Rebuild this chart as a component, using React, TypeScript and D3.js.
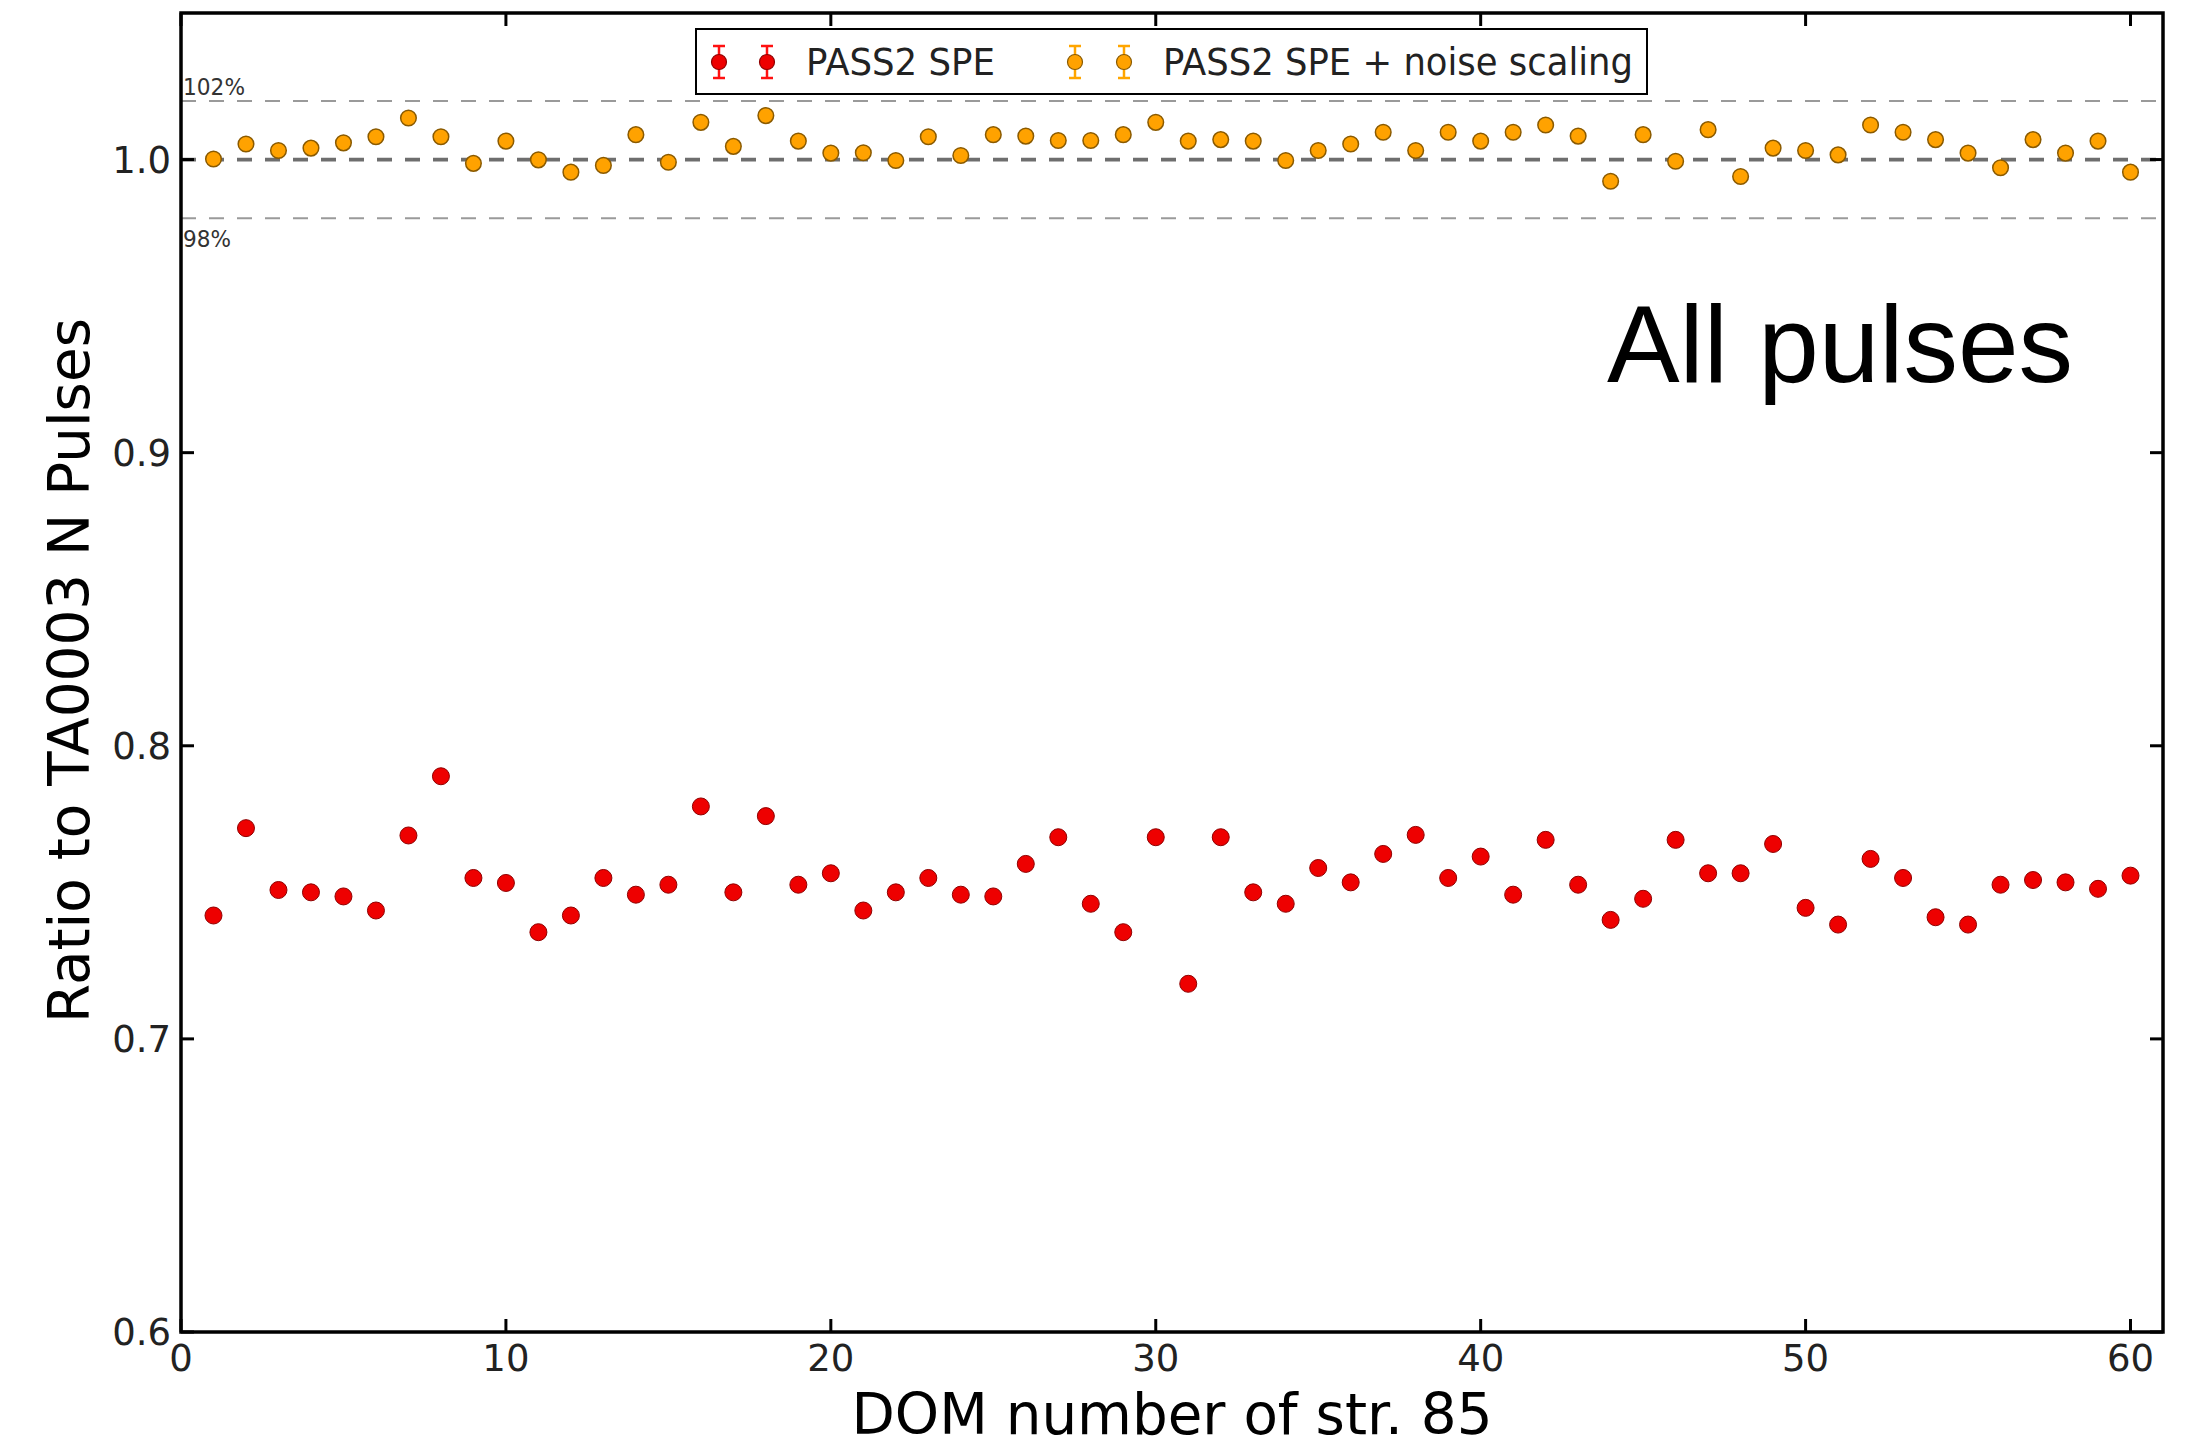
import React from "react";
import * as d3 from "d3";

const domNumbers = [
  1, 2, 3, 4, 5, 6, 7, 8, 9, 10, 11, 12, 13, 14, 15, 16, 17, 18, 19, 20,
  21, 22, 23, 24, 25, 26, 27, 28, 29, 30, 31, 32, 33, 34, 35, 36, 37, 38, 39, 40,
  41, 42, 43, 44, 45, 46, 47, 48, 49, 50, 51, 52, 53, 54, 55, 56, 57, 58, 59, 60,
];

const pass2Spe = [
  0.7421, 0.7719, 0.7508, 0.75, 0.7486, 0.7438, 0.7694, 0.7896, 0.7549, 0.7532,
  0.7364, 0.7421, 0.7549, 0.7492, 0.7526, 0.7793, 0.75, 0.776, 0.7526, 0.7565,
  0.7438, 0.75, 0.7549, 0.7492, 0.7486, 0.7597, 0.7688, 0.7461, 0.7364, 0.7688,
  0.7188, 0.7688, 0.75, 0.7461, 0.7583, 0.7534, 0.7631, 0.7696, 0.7549, 0.7622,
  0.7492, 0.7679, 0.7526, 0.7406, 0.7478, 0.7679, 0.7565, 0.7565, 0.7665, 0.7447,
  0.739, 0.7614, 0.7549, 0.7415, 0.739, 0.7526, 0.7542, 0.7534, 0.7512, 0.7557,
];

const pass2SpeNoise = [
  1.0002, 1.0053, 1.0031, 1.0039, 1.0057, 1.0078, 1.0142, 1.0078, 0.9987, 1.0063,
  0.9999, 0.9957, 0.998, 1.0085, 0.9991, 1.0127, 1.0045, 1.015, 1.0063, 1.0022,
  1.0023, 0.9997, 1.0078, 1.0014, 1.0085, 1.008, 1.0065, 1.0065, 1.0085, 1.0127,
  1.0063, 1.0068, 1.0063, 0.9997, 1.0031, 1.0053, 1.0093, 1.0031, 1.0093, 1.0063,
  1.0093, 1.0118, 1.008, 0.9926, 1.0085, 0.9994, 1.0102, 0.9942, 1.0039, 1.0031,
  1.0016, 1.0118, 1.0093, 1.0068, 1.0022, 0.9972, 1.0068, 1.0022, 1.0063, 0.9957,
];

const xTicks = [0, 10, 20, 30, 40, 50, 60];
const yTicks = [0.6, 0.7, 0.8, 0.9, 1.0];
const refLines = [1.02, 1.0, 0.98];
const seriesNames = ["PASS2 SPE", "PASS2 SPE + noise scaling"];

const W = 2203;
const H = 1455;
const L = 181;
const R = 2163;
const T = 13;
const B = 1332;

const RED = "#ee0000";
const RED_EDGE = "#8f0000";
const ORANGE = "#ffa200";
const ORANGE_EDGE = "#8a5a00";

export default function App() {
  const x = d3.scaleLinear().domain([0, 61]).range([L, R]);
  const y = d3.scaleLinear().domain([0.6, 1.05]).range([B, T]);
  const tickFont = "'DejaVu Sans', sans-serif";

  const legendMarker = (cx: number, cy: number, fill: string, edge: string, barColor: string, key: string) => (
    <g key={key}>
      <line x1={cx} x2={cx} y1={cy - 16} y2={cy + 16} stroke={barColor} strokeWidth={2.5} />
      <line x1={cx - 6} x2={cx + 6} y1={cy - 16} y2={cy - 16} stroke={barColor} strokeWidth={2.5} />
      <line x1={cx - 6} x2={cx + 6} y1={cy + 16} y2={cy + 16} stroke={barColor} strokeWidth={2.5} />
      <circle cx={cx} cy={cy} r={7.5} fill={fill} stroke={edge} strokeWidth={1.2} />
    </g>
  );

  return (
    <svg
      width={W}
      height={H}
      style={{ position: "absolute", left: 0, top: 0, background: "#fff" }}
    >
      <rect x={0} y={0} width={W} height={H} fill="#fff" />

      {refLines.map((v) => (
        <line
          key={v}
          x1={L}
          x2={R}
          y1={y(v)}
          y2={y(v)}
          stroke={v === 1.0 ? "#6e6e6e" : "#9a9a9a"}
          strokeWidth={v === 1.0 ? 3.8 : 2}
          strokeDasharray="15 13"
        />
      ))}
      <text x={183} y={95} fontFamily={tickFont} fontSize={23} fill="#333" textLength={62} lengthAdjust="spacingAndGlyphs">102%</text>
      <text x={183} y={247} fontFamily={tickFont} fontSize={23} fill="#333" textLength={48} lengthAdjust="spacingAndGlyphs">98%</text>

      {domNumbers.map((d, i) => (
        <circle key={"r" + d} cx={x(d)} cy={y(pass2Spe[i])} r={8.5} fill={RED} stroke={RED_EDGE} strokeWidth={1} />
      ))}
      {domNumbers.map((d, i) => (
        <circle key={"o" + d} cx={x(d)} cy={y(pass2SpeNoise[i])} r={7.8} fill={ORANGE} stroke={ORANGE_EDGE} strokeWidth={1.5} />
      ))}

      <rect x={L} y={T} width={R - L} height={B - T} fill="none" stroke="#000" strokeWidth={3.5} />

      {xTicks.map((t) => (
        <g key={"xt" + t}>
          <line x1={x(t)} x2={x(t)} y1={B} y2={B - 13} stroke="#000" strokeWidth={3} />
          <line x1={x(t)} x2={x(t)} y1={T} y2={T + 13} stroke="#000" strokeWidth={3} />
          <text x={x(t)} y={1371} textAnchor="middle" fontFamily={tickFont} fontSize={37} fill="#222">
            {t}
          </text>
        </g>
      ))}
      {yTicks.map((t) => (
        <g key={"yt" + t}>
          <line x1={L} x2={L + 13} y1={y(t)} y2={y(t)} stroke="#000" strokeWidth={3} />
          <line x1={R} x2={R - 13} y1={y(t)} y2={y(t)} stroke="#000" strokeWidth={3} />
          <text x={171} y={y(t)} dy="0.36em" textAnchor="end" fontFamily={tickFont} fontSize={37} fill="#222">
            {d3.format(".1f")(t)}
          </text>
        </g>
      ))}

      <text x={(L + R) / 2} y={1434} textAnchor="middle" fontFamily={tickFont} fontSize={57} fill="#000" textLength={641} lengthAdjust="spacingAndGlyphs">
        DOM number of str. 85
      </text>
      <text
        transform={`translate(89, ${(T + B) / 2 - 2}) rotate(-90)`}
        textAnchor="middle"
        fontFamily={tickFont}
        fontSize={57}
        fill="#000"
        textLength={705}
        lengthAdjust="spacingAndGlyphs"
      >
        Ratio to TA0003 N Pulses
      </text>

      <text x={1607} y={382} fontFamily="'Liberation Sans', Arial, sans-serif" fontSize={110} fill="#000" textLength={466} lengthAdjust="spacingAndGlyphs">
        All pulses
      </text>

      <rect x={696} y={29} width={951} height={65} fill="#fff" stroke="#000" strokeWidth={2} />
      {legendMarker(719, 62, RED, RED_EDGE, "#ff1010", "l1a")}
      {legendMarker(767, 62, RED, RED_EDGE, "#ff1010", "l1b")}
      <text x={806} y={75} fontFamily={tickFont} fontSize={37} fill="#222" textLength={189} lengthAdjust="spacingAndGlyphs">
        {seriesNames[0]}
      </text>
      {legendMarker(1075, 62, ORANGE, ORANGE_EDGE, "#ffa500", "l2a")}
      {legendMarker(1124, 62, ORANGE, ORANGE_EDGE, "#ffa500", "l2b")}
      <text x={1163} y={75} fontFamily={tickFont} fontSize={37} fill="#222" textLength={470} lengthAdjust="spacingAndGlyphs">
        {seriesNames[1]}
      </text>
    </svg>
  );
}
